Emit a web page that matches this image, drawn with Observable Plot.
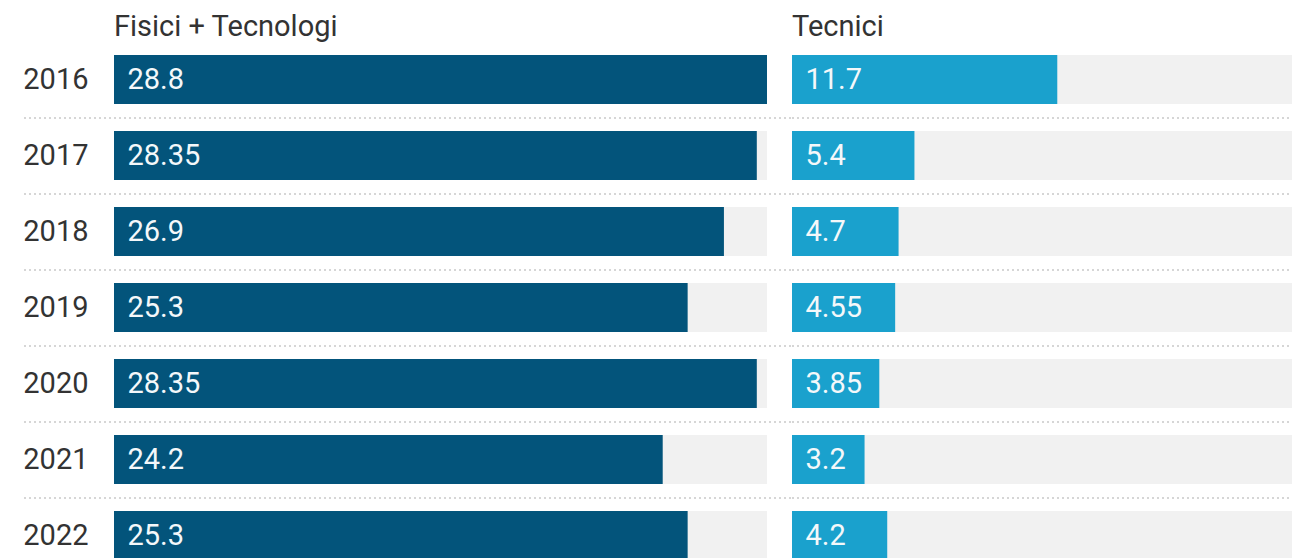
<!DOCTYPE html>
<html>
<head>
<meta charset="utf-8">
<script src="https://cdn.jsdelivr.net/npm/d3@7"></script>
<script src="https://cdn.jsdelivr.net/npm/@observablehq/plot@0.6"></script>
<style>
  html, body { margin: 0; padding: 0; background: #fff; overflow: hidden; }
  #wrap { position: relative; width: 1292px; height: 558px; overflow: hidden; font-family: Roboto, sans-serif; }
  .title { position: absolute; top: 12px; font-size: 29px; line-height: 1; color: #333; white-space: nowrap; }
  .panel { position: absolute; top: 0; }
</style>
</head>
<body>
<div id="wrap">
  <div class="panel" id="left"></div>
  <div class="panel" id="right"></div>
  <div class="title" id="t1"></div>
  <div class="title" id="t2"></div>
</div>
<script>
// ---- data ----
const years = ["2016", "2017", "2018", "2019", "2020", "2021", "2022"];
const fisici = [28.8, 28.35, 26.9, 25.3, 28.35, 24.2, 25.3];
const tecnici = [11.7, 5.4, 4.7, 4.55, 3.85, 3.2, 4.2];
const panelTitles = ["Fisici + Tecnologi", "Tecnici"];

// ---- layout ----
const leftX0 = 114, leftX1 = 767, rightX0 = 792, totalW = 1292;
const leftMax = d3.max(fisici);
const rightMax = leftMax * (totalW - rightX0) / (leftX1 - leftX0); // same px/unit as left
const H = 600, mTop = 28, mBottom = 13, pad = 0.355;
const font = {fontSize: "29px", fontFamily: "Roboto, sans-serif", color: "#333", background: "transparent", overflow: "visible"};
const sep = {stroke: "#d6d6d6", strokeWidth: 2, strokeDasharray: "2,3"};

const leftData = years.map((y, i) => ({year: y, value: fisici[i]}));
const rightData = years.map((y, i) => ({year: y, value: tecnici[i]}));

const left = Plot.plot({
  width: rightX0, height: H,
  marginLeft: leftX0, marginRight: rightX0 - leftX1, marginTop: mTop, marginBottom: mBottom,
  style: font,
  x: {domain: [0, leftMax], axis: null},
  y: {domain: years, padding: pad, tickSize: 0, tickPadding: 26, label: null},
  marks: [
    Plot.barX(leftData, {y: "year", x: () => leftMax, fill: "#f1f1f1"}),
    Plot.barX(leftData, {y: "year", x: "value", fill: "#03547b"}),
    Plot.text(leftData, {y: "year", x: 0, text: d => String(d.value), textAnchor: "start", dx: 13, fill: "#f4f8fa"}),
    Plot.ruleY(years, {y: d => d, dy: 38, ...sep, insetLeft: -90, insetRight: -(rightX0 - leftX1)})
  ]
});
document.getElementById("left").appendChild(left);

const right = Plot.plot({
  width: totalW - rightX0, height: H,
  marginLeft: 0, marginRight: 0, marginTop: mTop, marginBottom: mBottom,
  style: font,
  x: {domain: [0, rightMax], axis: null},
  y: {domain: years, padding: pad, axis: null},
  marks: [
    Plot.barX(rightData, {y: "year", x: () => rightMax, fill: "#f1f1f1"}),
    Plot.barX(rightData, {y: "year", x: "value", fill: "#1aa1cd"}),
    Plot.text(rightData, {y: "year", x: 0, text: d => String(d.value), textAnchor: "start", dx: 13, fill: "#f4f8fa"}),
    Plot.ruleY(years, {y: d => d, dy: 38, ...sep})
  ]
});
const rp = document.getElementById("right");
rp.style.left = rightX0 + "px";
rp.appendChild(right);

const t1 = document.getElementById("t1"), t2 = document.getElementById("t2");
t1.textContent = panelTitles[0]; t1.style.left = leftX0 + "px";
t2.textContent = panelTitles[1]; t2.style.left = rightX0 + "px";
</script>
</body>
</html>
